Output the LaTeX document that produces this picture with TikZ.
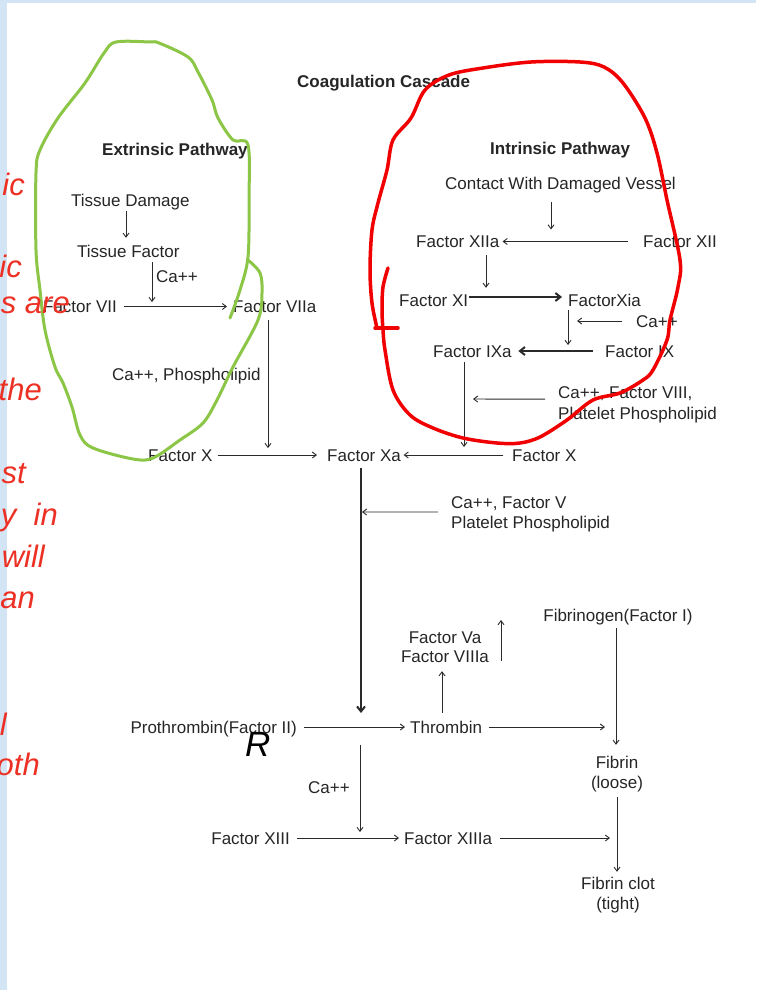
\documentclass[tikz,border=0pt]{standalone}
\usepackage{fontspec}
\setmainfont{Liberation Sans}
\usetikzlibrary{arrows.meta,calc}
\definecolor{txt}{HTML}{262626}
\definecolor{lin}{HTML}{2A2A2A}
\definecolor{bgblue}{HTML}{D3E4F4}
\definecolor{redt}{RGB}{236,48,36}
\definecolor{grn}{RGB}{140,198,70}
\definecolor{loopred}{RGB}{240,0,0}
\begin{document}
\begin{tikzpicture}[x=1pt,y=-1pt,
  lbl/.style={font=\fontsize{17}{20}\selectfont, text=txt, inner sep=0pt, text height=12pt, text depth=0pt},
  hd/.style={lbl, font=\bfseries\fontsize{17}{20}\selectfont},
  arr/.style={draw=lin, line width=0.9pt, -{Straight Barb[length=4pt,width=6pt]}},
  thk/.style={draw=lin, line width=2pt, -{Straight Barb[length=5pt,width=8pt]}},
  redtxt/.style={font=\itshape\fontsize{31}{36}\selectfont, text=redt, inner sep=0pt, anchor=base east},
  grnline/.style={draw=grn, line width=3pt, line cap=round, line join=round},
  redline/.style={draw=loopred, line width=3.5pt, line cap=round, line join=round}]
\useasboundingbox (0,0) rectangle (756,990);
\fill[bgblue] (0,0) rectangle (756,990);
\fill[white] (7,3) rectangle (756,990);

% headings
\node[hd, anchor=west] (title) at (297,82) {Coagulation Cascade};
\node[hd, anchor=west] (ext) at (102,149) {Extrinsic Pathway};
\node[hd, anchor=west] (int) at (490,148.5) {Intrinsic Pathway};

% extrinsic
\node[lbl, anchor=west] (td) at (71,200.5) {Tissue Damage};
\node[lbl, anchor=west] (tf) at (77,251) {Tissue Factor};
\node[lbl, anchor=west] (ca1) at (156,276.5) {Ca++};
\node[lbl, anchor=east] (f7) at (117,306.5) {Factor VII};
\node[lbl, anchor=west] (f7a) at (233,306.5) {Factor VIIa};
\node[lbl, anchor=west] (cap) at (112,374) {Ca++, Phospholipid};
\node[lbl, anchor=west] (f10l) at (148,455) {Factor X};
\node[lbl, anchor=west] (f10a) at (327,455) {Factor Xa};
\node[lbl, anchor=west] (f10r) at (512,455) {Factor X};

% intrinsic
\node[lbl, anchor=west] (cwd) at (445,183.5) {Contact With Damaged Vessel};
\node[lbl, anchor=west] (f12a) at (416,241.5) {Factor XIIa};
\node[lbl, anchor=west] (f12) at (643,241.5) {Factor XII};
\node[lbl, anchor=west] (f11) at (399,300) {Factor XI};
\node[lbl, anchor=west] (f11a) at (568,300) {FactorXia};
\node[lbl, anchor=west] (ca2) at (636,321) {Ca++};
\node[lbl, anchor=west] (f9a) at (433,351) {Factor IXa};
\node[lbl, anchor=west] (f9) at (605,351) {Factor IX};
\node[lbl, anchor=west] (c8a) at (558,392) {Ca++, Factor VIII,};
\node[lbl, anchor=west] (c8b) at (558,413) {Platelet Phospholipid};

% common
\node[lbl, anchor=west] (c5a) at (451,502) {Ca++, Factor V};
\node[lbl, anchor=west] (c5b) at (451,522) {Platelet Phospholipid};
\node[lbl] (fbg) at (618,615) {Fibrinogen(Factor I)};
\node[lbl] (fva) at (445,637.5) {Factor Va};
\node[lbl] (fviiia) at (445,656) {Factor VIIIa};
\node[lbl, anchor=east] (pro) at (297,727) {Prothrombin(Factor II)};
\node[lbl, anchor=west] (thr) at (410,727) {Thrombin};
\node[lbl] (fib) at (617,762) {Fibrin};
\node[lbl] (loose) at (617,782) {(loose)};
\node[lbl, anchor=west] (ca3) at (308,787.5) {Ca++};
\node[lbl, anchor=east] (f13) at (290,838) {Factor XIII};
\node[lbl, anchor=west] (f13a) at (404,838) {Factor XIIIa};
\node[lbl] (clot) at (618,883) {Fibrin clot};
\node[lbl] (tight) at (618,903) {(tight)};

% junction points
\coordinate (j1) at (152,306.5);
\coordinate (j2) at (268,455);
\coordinate (j3) at (551,241.5);
\coordinate (j4) at (568,351);
\coordinate (j5) at (568,321);
\coordinate (j6) at (464,455);
\coordinate (j7) at (464,399);
\coordinate (j8) at (361,727);
\coordinate (j9) at (361,512);
\coordinate (j10) at (617,727);
\coordinate (up1) at (501,620);
\coordinate (c3s) at (360,745);
\coordinate (j12) at (360,838);
\coordinate (j13) at (617,838);

% connectors
\draw[arr, shorten <=4.5pt, shorten >=7pt] ([xshift=55pt]td.south west) -- ([xshift=49pt]tf.north west);
\draw[arr, shorten <=5pt, shorten >=4.5pt] ([xshift=75pt]tf.south west) -- (j1);
\draw[arr, shorten <=7pt, shorten >=6pt] (f7.east) -- (f7a.west);
\draw[arr, shorten <=7.5pt, shorten >=7pt] ([xshift=35pt]f7a.south west) -- (j2);
\draw[arr, shorten <=5pt, shorten >=10pt] (f10l.east) -- (f10a.west);
\draw[arr, shorten <=9pt, shorten >=2.5pt] (f10r.west) -- (f10a.east);
\draw[arr, shorten <=12.5pt, shorten >=12pt] ([xshift=106pt]cwd.south west) -- (j3);
\draw[arr, shorten <=15pt, shorten >=3pt] (f12.west) -- (f12a.east);
\draw[arr, shorten <=7.5pt, shorten >=6pt] ([xshift=70pt]f12a.south west) -- ([xshift=87pt]f11.north west);
\draw[thk, shorten <=1pt, shorten >=6pt] ([yshift=3pt]f11.east) -- ([yshift=3pt]f11a.west);
\draw[arr, shorten <=4pt, shorten >=6pt] (f11a.south west) -- (j4);
\draw[arr, shorten <=14pt, shorten >=9pt] (ca2.west) -- (j5);
\draw[thk, shorten <=12pt, shorten >=6.5pt] (f9.west) -- (f9a.east);
\draw[arr, shorten <=5pt, shorten >=8pt] ([xshift=31pt]f9a.south west) -- (j6);
\draw[arr, shorten <=13pt, shorten >=9pt] ([yshift=-1pt]c8a.south west) -- (j7);
\draw[thk, shorten <=7pt, shorten >=14pt] ([xshift=34pt]f10a.south west) -- (j8);
\draw[arr, shorten <=13pt, shorten >=1pt] ($(c5a.south west)!0.5!(c5b.north west)$) -- (j9);
\draw[arr, shorten <=7pt, shorten >=5pt] (pro.east) -- (thr.west);
\draw[arr, shorten <=7pt, shorten >=12pt] (thr.east) -- (j10);
\draw[arr, shorten <=8pt, shorten >=9pt] ([xshift=32pt]thr.north west) -- ([xshift=-3pt]fviiia.south);
\draw[arr, shorten <=1pt] ([xshift=56pt]fviiia.south) -- (up1);
\draw[arr, shorten <=7pt, shorten >=11pt] ([xshift=-2pt]fbg.south) -- ([xshift=-1pt]fib.north);
\draw[arr, shorten <=9pt, shorten >=5pt] (loose.south) -- (loose.south |- clot.north);
\draw[arr, shorten >=6pt] (c3s) -- (j12);
\draw[arr, shorten <=7pt, shorten >=5pt] (f13.east) -- (f13a.west);
\draw[arr, shorten <=8pt, shorten >=7pt] (f13a.east) -- (j13);

% hand-drawn loops
\draw[grnline] plot[smooth, tension=0.55] coordinates {(230,318) (240,290) (248,257) (249,200) (248,145) (233,140) (218,118) (212,100) (198,72) (188,57) (159,43) (150,42) (116,42) (104,53) (85,83) (58,118) (40,150) (36,173) (36,250) (40,290) (45,330) (55,367) (63,383) (72,407) (80,435) (93,448) (133,459) (153,458) (180,440) (203,423) (217,400) (233,367) (258,320) (262,293) (260,273) (248,260)};
\draw[redline] plot[smooth, tension=0.55] coordinates {(377,328) (372,303) (370,270) (372,230) (378,203) (387,170) (393,140) (411,118) (425,90) (449,75) (483,68) (531,62) (580,62) (604,67) (623,83) (645,118) (657,153) (667,200) (680,260) (678,287) (670,320) (667,340) (653,370) (643,380) (620,393) (593,400) (567,420) (540,437) (520,443) (497,443) (463,438) (433,428) (410,415) (393,390) (385,350) (383,330) (382,310) (383,287) (388,268)};
\draw[redline] (375,328) -- (398,328);

% cut-off slide text
\node[redtxt] (r1) at (25,195) {ic};
\node[redtxt] (r2) at (22,277) {ic};
\node[redtxt] (r3) at (70,313) {s are};
\node[redtxt] (r4) at (42,400) {the};
\node[redtxt] (r5) at (26,483) {st};
\node[redtxt] (r6) at (58,525) {y\ \ in};
\node[redtxt] (r7) at (45,567) {will};
\node[redtxt] (r8) at (35,608) {an};
\node[redtxt] (r9) at (7,735) {l};
\node[redtxt] (r10) at (40,775) {oth};
\node[font=\itshape\fontsize{35}{38}\selectfont, inner sep=0pt, anchor=base west] (R) at (245,756) {R};
\end{tikzpicture}
\end{document}
